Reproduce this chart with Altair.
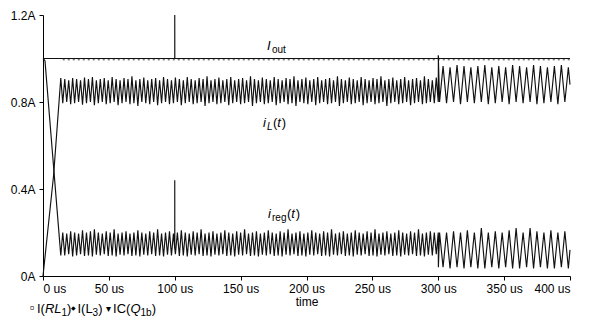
import altair as alt
import pandas as pd

FONT = "Liberation Sans"

# ---------------- data ----------------
# I_out trace
iout_t = [0, 100, 100, 100.05, 300, 300, 300.3, 400]
iout_v = [1.0, 1.0, 1.2, 1.0, 1.0, 1.015, 1.0, 1.0]
# small ripple trace just under I_out
ripple_t = [15, 400]
ripple_v = [0.994, 0.994]

# start-up transients
il_head_t = [0, 8, 13.5]
il_head_v = [0.0, 0.46, 0.91]
ireg_head_t = [0, 1.5, 13.5]
ireg_head_v = [1.0, 0.99, 0.095]

# switching cycles 15..300 us (cycle start times)
t_sw1 = [15, 18, 21, 24, 27, 30, 33, 36, 39, 42, 45, 48, 51, 54, 57, 60, 63, 66, 69, 72,
         75, 78, 81, 84, 87, 90, 93, 96, 99, 102, 105, 108, 111, 114, 117, 120, 123, 126, 129, 132,
         135, 138, 141, 144, 147, 150, 153, 156, 159, 162, 165, 168, 171, 174, 177, 180, 183, 186, 189, 192,
         195, 198, 201, 204, 207, 210, 213, 216, 219, 222, 225, 228, 231, 234, 237, 240, 243, 246, 249, 252,
         255, 258, 261, 264, 267, 270, 273, 276, 279, 282, 285, 288, 291, 294, 297]
half1 = 1.5

il_tr1 = [0.795, 0.800, 0.790, 0.795, 0.800, 0.788, 0.795, 0.800, 0.785, 0.795,
          0.800, 0.790, 0.795, 0.800, 0.785, 0.795, 0.800, 0.790, 0.795, 0.782,
          0.800, 0.795, 0.790, 0.800, 0.785, 0.795, 0.800, 0.790, 0.795, 0.800,
          0.785, 0.795, 0.800, 0.790, 0.795, 0.800, 0.782, 0.795, 0.800, 0.790,
          0.795, 0.800, 0.785, 0.795, 0.800, 0.790, 0.795, 0.800, 0.782, 0.795,
          0.800, 0.790, 0.795, 0.800, 0.785, 0.795, 0.800, 0.790, 0.795, 0.782,
          0.800, 0.795, 0.790, 0.800, 0.785, 0.795, 0.800, 0.790, 0.795, 0.800,
          0.782, 0.795, 0.800, 0.790, 0.795, 0.800, 0.785, 0.795, 0.800, 0.790,
          0.795, 0.800, 0.782, 0.795, 0.800, 0.790, 0.795, 0.800, 0.785, 0.795,
          0.800, 0.790, 0.795, 0.800, 0.795]
il_pk1 = [0.905, 0.900, 0.910, 0.905, 0.900, 0.912, 0.905, 0.915, 0.900, 0.905,
          0.910, 0.900, 0.915, 0.905, 0.900, 0.910, 0.905, 0.918, 0.900, 0.905,
          0.912, 0.900, 0.905, 0.910, 0.900, 0.915, 0.905, 0.900, 0.912, 0.905,
          0.900, 0.915, 0.905, 0.900, 0.910, 0.905, 0.918, 0.900, 0.905, 0.912,
          0.900, 0.905, 0.915, 0.900, 0.905, 0.910, 0.900, 0.918, 0.905, 0.900,
          0.912, 0.905, 0.900, 0.915, 0.905, 0.900, 0.910, 0.905, 0.918, 0.900,
          0.905, 0.912, 0.900, 0.905, 0.915, 0.900, 0.905, 0.910, 0.900, 0.918,
          0.905, 0.900, 0.912, 0.905, 0.900, 0.915, 0.905, 0.900, 0.910, 0.905,
          0.918, 0.900, 0.905, 0.912, 0.900, 0.905, 0.915, 0.900, 0.905, 0.910,
          0.900, 0.918, 0.905, 0.900, 0.912]
ireg_pk1 = [0.200, 0.195, 0.205, 0.200, 0.195, 0.210, 0.200, 0.205, 0.215, 0.200,
            0.195, 0.205, 0.200, 0.215, 0.195, 0.200, 0.205, 0.195, 0.200, 0.210,
            0.200, 0.195, 0.205, 0.200, 0.215, 0.195, 0.200, 0.205, 0.195, 0.200,
            0.210, 0.200, 0.195, 0.205, 0.200, 0.215, 0.195, 0.200, 0.205, 0.195,
            0.200, 0.210, 0.200, 0.195, 0.205, 0.200, 0.215, 0.195, 0.200, 0.205,
            0.195, 0.200, 0.210, 0.200, 0.195, 0.205, 0.200, 0.215, 0.195, 0.200,
            0.205, 0.195, 0.200, 0.210, 0.200, 0.195, 0.205, 0.200, 0.215, 0.195,
            0.200, 0.205, 0.195, 0.200, 0.210, 0.200, 0.195, 0.205, 0.200, 0.215,
            0.195, 0.200, 0.205, 0.195, 0.200, 0.210, 0.200, 0.195, 0.205, 0.200,
            0.215, 0.195, 0.200, 0.205, 0.200]
ireg_tr1 = [0.095, 0.100, 0.090, 0.095, 0.100, 0.092, 0.095, 0.090, 0.098, 0.095,
            0.100, 0.092, 0.095, 0.090, 0.098, 0.095, 0.100, 0.092, 0.095, 0.090,
            0.098, 0.095, 0.100, 0.092, 0.095, 0.090, 0.098, 0.095, 0.100, 0.092,
            0.095, 0.090, 0.098, 0.095, 0.100, 0.092, 0.095, 0.090, 0.098, 0.095,
            0.100, 0.092, 0.095, 0.090, 0.098, 0.095, 0.100, 0.092, 0.095, 0.090,
            0.098, 0.095, 0.100, 0.092, 0.095, 0.090, 0.098, 0.095, 0.100, 0.092,
            0.095, 0.090, 0.098, 0.095, 0.100, 0.092, 0.095, 0.090, 0.098, 0.095,
            0.100, 0.092, 0.095, 0.090, 0.098, 0.095, 0.100, 0.092, 0.095, 0.090,
            0.098, 0.095, 0.100, 0.092, 0.095, 0.090, 0.098, 0.095, 0.100, 0.092,
            0.095, 0.090, 0.098, 0.095, 0.100]

# load step at 300 us
il_mid_t = [300, 300.1]
il_mid_v = [0.80, 1.0]
ireg_mid_t = [300, 300.1]
ireg_mid_v = [0.20, 0.04]

# switching cycles 300..400 us
t_sw2 = [301.0, 306.3, 311.6, 316.9, 322.1, 327.4, 332.7, 338.0, 343.3, 348.5,
         353.8, 359.1, 364.4, 369.7, 374.9, 380.2, 385.5, 390.8, 396.1]
half2 = 2.65
il_tr2 = [0.80, 0.795, 0.80, 0.79, 0.80, 0.795, 0.80, 0.79, 0.795, 0.80,
          0.79, 0.80, 0.795, 0.80, 0.79, 0.795, 0.80, 0.79, 0.80]
il_pk2 = [0.965, 0.96, 0.97, 0.965, 0.96, 0.965, 0.97, 0.96, 0.965, 0.96,
          0.97, 0.965, 0.96, 0.97, 0.965, 0.96, 0.965, 0.97, 0.96]
ireg_pk2 = [0.20, 0.20, 0.205, 0.20, 0.21, 0.20, 0.22, 0.20, 0.205, 0.20,
            0.21, 0.22, 0.20, 0.22, 0.205, 0.20, 0.21, 0.20, 0.205]
ireg_tr2 = [0.04, 0.035, 0.04, 0.035, 0.04, 0.035, 0.035, 0.04, 0.035, 0.04,
            0.035, 0.035, 0.04, 0.035, 0.04, 0.035, 0.035, 0.04, 0.035]

il_tail_t, il_tail_v = [400], [0.88]
ireg_tail_t, ireg_tail_v = [400], [0.12]

# spike on i_reg at 100 us
ireg_spike_t = [100, 100, 100.05]
ireg_spike_v = [0.125, 0.44, 0.125]

x_ticks = [0, 50, 100, 150, 200, 250, 300, 350, 400]
y_ticks = [0, 0.4, 0.8, 1.2]


# ---------------- build table ----------------
def build(name, head_t, head_v, s1, a1, b1, h1, mid_t, mid_v, s2, a2, b2, h2,
          tail_t, tail_v, extra_t=(), extra_v=()):
    pts = list(zip(head_t, head_v))
    for s, a, b in zip(s1, a1, b1):
        pts.append((s, a))
        pts.append((s + h1, b))
    pts += list(zip(mid_t, mid_v))
    for s, a, b in zip(s2, a2, b2):
        pts.append((s, a))
        pts.append((s + h2, b))
    pts += list(zip(tail_t, tail_v))
    pts += list(zip(extra_t, extra_v))
    pts = sorted(pts, key=lambda p: p[0])  # stable sort
    return pd.DataFrame({"t": [p[0] for p in pts], "v": [p[1] for p in pts],
                         "i": list(range(len(pts))), "s": name})


df_il = build("iL", il_head_t, il_head_v, t_sw1, il_tr1, il_pk1, half1,
              il_mid_t, il_mid_v, t_sw2, il_tr2, il_pk2, half2, il_tail_t, il_tail_v)
df_ireg = build("ireg", ireg_head_t, ireg_head_v, t_sw1, ireg_pk1, ireg_tr1, half1,
                ireg_mid_t, ireg_mid_v, t_sw2, ireg_pk2, ireg_tr2, half2,
                ireg_tail_t, ireg_tail_v, ireg_spike_t, ireg_spike_v)
df_iout = pd.DataFrame({"t": iout_t, "v": iout_v, "i": range(len(iout_t)), "s": "Iout"})
df = pd.concat([df_iout, df_il, df_ireg], ignore_index=True)
df_rip = pd.DataFrame({"t": ripple_t, "v": ripple_v})

xs = alt.Scale(domain=[0, 400], nice=False)
ys = alt.Scale(domain=[0, 1.2], nice=False)

x_enc = alt.X("t:Q", scale=xs, axis=alt.Axis(
    values=x_ticks, labelExpr="datum.value + ' us'", title="time",
    grid=False, tickSize=4, labelPadding=3, titlePadding=2,
    labelFont=FONT, titleFont=FONT, labelFontSize=12, titleFontSize=12,
    titleFontWeight="normal", domainColor="black", tickColor="black",
    labelColor="black", titleColor="black"))
y_enc = alt.Y("v:Q", scale=ys, axis=alt.Axis(
    values=y_ticks, labelExpr="datum.value == 0 ? '0A' : format(datum.value, '.1f') + 'A'",
    title=None, grid=False, tickSize=4, labelPadding=4,
    labelFont=FONT, labelFontSize=12, domainColor="black", tickColor="black",
    labelColor="black"))

lines = alt.Chart(df).mark_line(color="#111111", strokeWidth=1.15).encode(
    x=x_enc, y=y_enc, detail="s:N", order="i:Q")

ripple = alt.Chart(df_rip).mark_line(color="#444444", strokeWidth=1,
                                     strokeDash=[2, 3]).encode(
    x=alt.X("t:Q", scale=xs), y=alt.Y("v:Q", scale=ys))

# ---------------- text helpers ----------------
W = {'I': 0.278, '(': 0.333, ')': 0.333, 'R': 0.722, 'L': 0.556, 'C': 0.722,
     'Q': 0.778, 'b': 0.556, 'o': 0.556, 'u': 0.556, 't': 0.278, 'i': 0.222,
     'r': 0.333, 'e': 0.556, 'g': 0.556, ' ': 0.278}


def width(s, size):
    return sum(W.get(c, 0.556 if c.isdigit() else 0.5) for c in s) * size


def txt(s, x, y, size=12, italic=False):
    return alt.Chart(alt.Data(values=[{}])).mark_text(
        text=s, align="left", baseline="alphabetic", fontSize=size,
        fontStyle="italic" if italic else "normal", font=FONT, color="black"
    ).encode(x=alt.value(x), y=alt.value(y))


def seq(pieces, x0, y0):
    out = []
    x = x0
    for p in pieces:
        s, size, italic, dy = p[0], p[1], p[2], p[3]
        w = p[4] if len(p) > 4 else width(s, size)
        out.append(txt(s, x, y0 + dy, size, italic))
        x += w
    return out


texts = []
# I_out label
texts += seq([("I", 13, True, 0, 5), ("out", 10, False, 3)], 224, 35)
# i_L(t) label
texts += seq([("i", 13, True, 0, 4), ("L", 10, True, 3, 6), ("(", 13, False, 0),
              ("t", 13, True, 0, 4.5), (")", 13, False, 0)], 220, 112)
# i_reg(t) label
texts += seq([("i", 13, True, 0, 4), ("reg", 10, False, 3, 15), ("(", 13, False, 0),
              ("t", 13, True, 0, 4.5), (")", 13, False, 0)], 225, 203)
# legend line below the axis
texts += seq([("▫", 13, False, -1, 7), ("I(", 13, False, 0), ("RL", 13, True, 0),
              ("1", 10, False, 3), (")", 13, False, 0), ("◆", 6, False, -3, 6),
              ("I(L", 13, False, 0), ("3", 10, False, 3), (")", 13, False, 0),
              (" ", 13, False, 0), ("▾", 10, False, -1, 7), ("IC(", 13, False, 0),
              ("Q", 13, True, 0), ("1b", 10, False, 3), (")", 13, False, 0)], -13, 298)

chart = alt.layer(ripple, lines, *texts).properties(
    width=527, height=261,
    padding={"left": 35, "top": 7, "right": 11, "bottom": 46},
    autosize=alt.AutoSizeParams(type="none"),
).configure_view(stroke=None).configure_axis(domainWidth=1, tickWidth=1)

chart.save("out.html", embed_options={"renderer": "svg", "actions": False})
